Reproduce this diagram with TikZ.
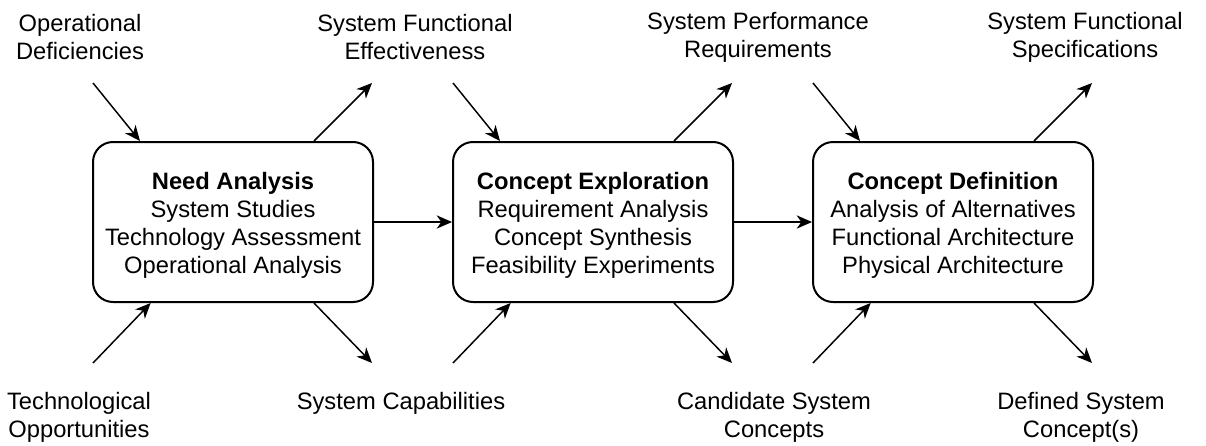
\documentclass[tikz,border=0pt]{standalone}
\usepackage{fontspec}
\setmainfont{Liberation Sans}
\usetikzlibrary{arrows.meta}
\begin{document}
\begin{tikzpicture}[x=0.75pt,y=-0.75pt,
  stagebox/.style={draw, line width=1.5pt, rounded corners=15pt, minimum width=210pt, minimum height=120pt, inner sep=0pt},
  lbl/.style={align=center, inner sep=0pt, font=\fontsize{17.8pt}{21pt}\selectfont},
  conn/.style={line width=1.1pt, -{Stealth[length=11.5pt,width=10pt,inset=3.5pt]}}
]
\useasboundingbox (0,0) rectangle (1206,446);
\foreach \i/\cx in {1/233,2/593,3/953}{
  \coordinate (tl\i) at (\cx-140,83);
  \coordinate (tr\i) at (\cx+139,83);
  \coordinate (bl\i) at (\cx-140,363);
  \coordinate (br\i) at (\cx+139,363);
}
\node[stagebox] (b1) at (233,222) {};
\node[stagebox] (b2) at (593,222) {};
\node[stagebox] (b3) at (953,222) {};
\node[lbl] (t1) at (233,225) {\textbf{Need Analysis}\\System Studies\\Technology Assessment\\Operational Analysis};
\node[lbl] (t2) at (593,225) {\textbf{Concept Exploration}\\Requirement Analysis\\Concept Synthesis\\Feasibility Experiments};
\node[lbl] (t3) at (953,225) {\textbf{Concept Definition}\\Analysis of Alternatives\\Functional Architecture\\Physical Architecture};

\node[lbl] (l1) at (80,37) {Operational\\Deficiencies};
\node[lbl] (l2) at (415,37) {System Functional\\Effectiveness};
\node[lbl] (l3) at (758,37) {System Performance\\Requirements};
\node[lbl] (l4) at (1085,37) {System Functional\\Specifications};
\node[lbl] (l5) at (79,417) {Technological\\Opportunities};
\node[lbl] (l6) at (401,403) {System Capabilities};
\node[lbl] (l7) at (774,417) {Candidate System\\Concepts};
\node[lbl] (l8) at (1081,417) {Defined System\\Concept(s)};

\foreach \i in {1,2,3}{
  \draw[conn] (tl\i) -- ([xshift=36pt]b\i.north west);
  \draw[conn] ([xshift=-45pt]b\i.north east) -- (tr\i);
  \draw[conn] (bl\i) -- ([xshift=44pt]b\i.south west);
  \draw[conn] ([xshift=-45pt]b\i.south east) -- (br\i);
}
\draw[conn] (b1) -- (b2);
\draw[conn] (b2) -- (b3);
\end{tikzpicture}
\end{document}
